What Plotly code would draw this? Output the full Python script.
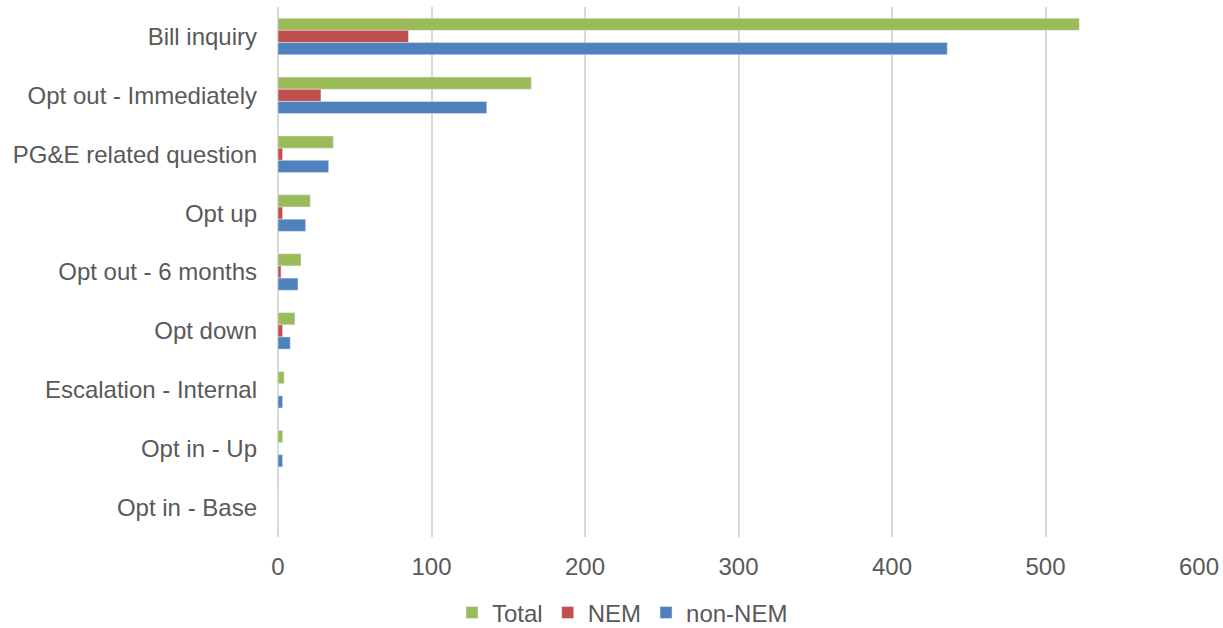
import plotly.graph_objects as go

categories = ["Bill inquiry", "Opt out - Immediately", "PG&E related question", "Opt up",
              "Opt out - 6 months", "Opt down", "Escalation - Internal", "Opt in - Up", "Opt in - Base"]
total = [522, 165, 36, 21, 15, 11, 4, 3, 0]
nem = [85, 28, 3, 3, 2, 3, 0, 0, 0]
non_nem = [436, 136, 33, 18, 13, 8, 3, 3, 0]

font = dict(family="Liberation Sans, Arial, sans-serif", size=24, color="#595959")

fig = go.Figure()
fig.add_trace(go.Bar(name="Total", y=categories, x=total, orientation="h", marker_color="#9BBB59"))
fig.add_trace(go.Bar(name="NEM", y=categories, x=nem, orientation="h", marker_color="#C0504D"))
fig.add_trace(go.Bar(name="non-NEM", y=categories, x=non_nem, orientation="h", marker_color="#4F81BD"))

fig.update_layout(
    width=1223, height=628,
    barmode="group", bargap=0.38, bargroupgap=0,
    plot_bgcolor="white", paper_bgcolor="white",
    font=font,
    margin=dict(l=278, r=24, t=7, b=91, autoexpand=False),
    legend=dict(orientation="h", x=0.509, xanchor="center", xref="container",
                y=0.024, yanchor="middle", yref="container",
                font=font, traceorder="normal", itemwidth=30),
    showlegend=True,
)
fig.update_xaxes(range=[0, 600], dtick=100, showgrid=True, gridcolor="#d9d9d9", gridwidth=2,
                 zeroline=True, zerolinecolor="#d9d9d9", zerolinewidth=2, showline=False,
                 ticklabelstandoff=13, tickfont=font, automargin=False)
fig.update_yaxes(autorange="reversed", showgrid=False, showline=False, ticks="",
                 ticklabelstandoff=20, tickfont=font, automargin=False)

fig.write_html("out.html")
